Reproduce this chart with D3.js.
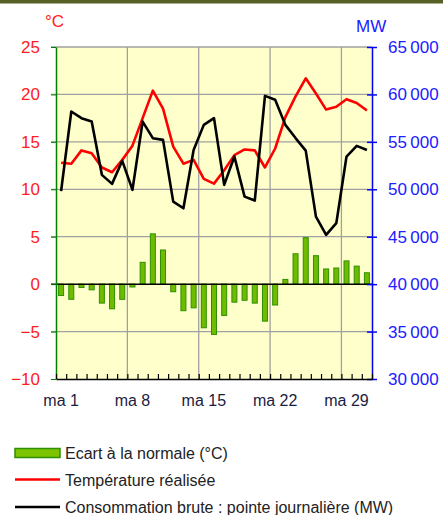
<!DOCTYPE html>
<html>
<head>
<meta charset="utf-8">
<script src="https://cdn.jsdelivr.net/npm/d3@7"></script>
<style>
  body { margin: 0; background: #fff; }
  svg { display: block; font-family: Arial, "Liberation Sans", sans-serif; }
</style>
</head>
<body>
<script>
// days of the month (31)
const days = d3.range(1, 32)
// tuesdays carry a label
const labelDays = [1, 8, 15, 22, 29]
const dayLabels = ['ma 1', 'ma 8', 'ma 15', 'ma 22', 'ma 29']

// temperature realised (°C)
const temperature = [12.8, 12.7, 14.1, 13.8, 12.3, 11.8, 13.1, 14.6, 17.5, 20.4,
  18.5, 14.5, 12.7, 13.1, 11.1, 10.6, 12.0, 13.6, 14.2, 14.1,
  12.3, 14.3, 17.6, 19.8, 21.7, 20.1, 18.4, 18.7, 19.5, 19.1, 18.3]

// gap to normal (°C)
const ecart = [-1.2, -1.6, -0.35, -0.6, -2.0, -2.6, -1.6, -0.3, 2.3, 5.3,
  3.6, -0.8, -2.8, -2.5, -4.6, -5.3, -3.3, -1.9, -1.7, -2.0,
  -3.9, -2.2, 0.5, 3.2, 4.9, 3.0, 1.6, 1.7, 2.45, 1.9, 1.2]

// daily peak consumption (MW)
const consommation = [49800, 58200, 57500, 57140, 51520, 50570, 53000, 49940, 57140, 55390,
  55210, 48700, 48000, 54150, 56790, 57500, 50460, 53450, 49230, 48810,
  59850, 59430, 56790, 55400, 54080, 47120, 45190, 46430, 53450, 54580, 54150]

const tempTicks = [-10, -5, 0, 5, 10, 15, 20, 25]
const mwTicks = [30000, 35000, 40000, 45000, 50000, 55000, 60000, 65000]

const legendLabels = ['Ecart à la normale (°C)', 'Température réalisée', 'Consommation brute : pointe journalière (MW)']

const W = 443, H = 515
const plot = { left: 56, right: 372, top: 47, bottom: 379 }

const svg = d3.select('body').append('svg')
    .attr('width', W)
    .attr('height', H)

// dark band at the very top
svg.append('rect')
    .attr('x', 0).attr('y', 0)
    .attr('width', W).attr('height', 3.5)
    .attr('fill', '#566127')

// scales
const x = d3.scaleBand()
    .domain(days)
    .range([plot.left, plot.right])

const yT = d3.scaleLinear()
    .domain([-10, 25])
    .range([plot.bottom, plot.top])

const yMW = d3.scaleLinear()
    .domain([30000, 65000])
    .range([plot.bottom, plot.top])

// plot background
svg.append('rect')
    .attr('x', plot.left).attr('y', plot.top)
    .attr('width', plot.right - plot.left)
    .attr('height', plot.bottom - plot.top)
    .attr('fill', '#ffffcc')

// horizontal grid
svg.append('g')
    .selectAll('line')
    .data(tempTicks.filter(d => d != 0 && d != -10))
    .enter()
    .append('line')
    .attr('x1', plot.left - 5)
    .attr('x2', plot.right)
    .attr('y1', d => yT(d))
    .attr('y2', d => yT(d))
    .attr('stroke', '#a0a0a0')
    .attr('stroke-width', 1.3)

// vertical grid, one per week
svg.append('g')
    .selectAll('line')
    .data(labelDays.slice(1))
    .enter()
    .append('line')
    .attr('x1', d => x(d))
    .attr('x2', d => x(d))
    .attr('y1', plot.top)
    .attr('y2', plot.bottom)
    .attr('stroke', '#a0a0a0')
    .attr('stroke-width', 1.3)

// bars for the gap to normal
const barW = 5
svg.append('g')
    .selectAll('rect')
    .data(ecart)
    .enter()
    .append('rect')
    .attr('x', (d, i) => x(days[i]) + x.bandwidth() / 2 - barW / 2)
    .attr('y', d => yT(Math.max(0, d)))
    .attr('width', barW)
    .attr('height', d => Math.abs(yT(d) - yT(0)))
    .attr('fill', '#6ebb00')
    .attr('stroke', '#2f8f00')
    .attr('stroke-width', 1)

// zero line
svg.append('line')
    .attr('x1', plot.left - 5).attr('x2', plot.right)
    .attr('y1', yT(0)).attr('y2', yT(0))
    .attr('stroke', '#000')
    .attr('stroke-width', 1.5)

// lines
const cx = i => x(days[i]) + x.bandwidth() / 2

const tempLine = d3.line()
    .x((d, i) => cx(i))
    .y(d => yT(d))

const mwLine = d3.line()
    .x((d, i) => cx(i))
    .y(d => yMW(d))

svg.append('path')
    .datum(temperature)
    .attr('d', tempLine)
    .attr('fill', 'none')
    .attr('stroke', '#ff0000')
    .attr('stroke-width', 2.6)
    .attr('stroke-linejoin', 'round')

svg.append('path')
    .datum(consommation)
    .attr('d', mwLine)
    .attr('fill', 'none')
    .attr('stroke', '#000')
    .attr('stroke-width', 2.6)
    .attr('stroke-linejoin', 'round')

// left axis (°C)
const leftAxis = svg.append('g')
    .attr('transform', 'translate(' + plot.left + ',0)')
    .call(d3.axisLeft(yT).tickValues(tempTicks).tickSize(5).tickPadding(11).tickSizeOuter(0))
leftAxis.select('.domain').attr('stroke', '#008000').attr('stroke-width', 1.5)
leftAxis.selectAll('.tick line').attr('stroke', '#008000')
leftAxis.selectAll('.tick text')
    .attr('fill', '#ff2020')
    .style('font-size', '17px')

// right axis (MW)
const fr = d3.formatLocale({ decimal: ',', thousands: '\u2009', grouping: [3], currency: ['', ' €'] })
const rightAxis = svg.append('g')
    .attr('transform', 'translate(' + plot.right + ',0)')
    .call(d3.axisRight(yMW).tickValues(mwTicks).tickFormat(fr.format(',')).tickSize(5).tickPadding(11).tickSizeOuter(0))
rightAxis.select('.domain').attr('stroke', '#0000ff').attr('stroke-width', 1.5)
rightAxis.selectAll('.tick line').attr('stroke', '#0000ff').attr('x1', -5).attr('stroke-width', 1.5)
rightAxis.selectAll('.tick text')
    .attr('fill', '#2020ff')
    .style('font-size', '17px')

// bottom axis: small ticks at each day boundary
const xEdge = d3.scaleLinear().domain([0, days.length]).range([plot.left, plot.right])
const bottomTicks = svg.append('g')
    .attr('transform', 'translate(0,' + plot.bottom + ')')
    .call(d3.axisBottom(xEdge).ticks(days.length).tickSize(-5).tickFormat('').tickSizeOuter(0))
bottomTicks.select('.domain').attr('stroke', '#000').attr('stroke-width', 1.5)
bottomTicks.selectAll('.tick line').attr('stroke', '#000').attr('stroke-width', 1.2)

// day labels
const bottomLabels = svg.append('g')
    .attr('transform', 'translate(0,' + plot.bottom + ')')
    .call(d3.axisBottom(x).tickValues(labelDays).tickSize(0).tickPadding(16)
        .tickFormat(d => dayLabels[labelDays.indexOf(d)]))
bottomLabels.select('.domain').remove()
bottomLabels.selectAll('.tick text')
    .attr('fill', '#1c1c40')
    .style('font-size', '16px')

// axis units
svg.append('text')
    .attr('x', 45).attr('y', 27)
    .attr('fill', '#ff2020')
    .style('font-size', '17px')
    .text('°C')

svg.append('text')
    .attr('x', 356).attr('y', 32)
    .attr('fill', '#2020ff')
    .style('font-size', '17px')
    .text('MW')

// legend
const legend = svg.append('g')
    .attr('transform', 'translate(15,453)')

legend.append('rect')
    .attr('x', 0).attr('y', -4.5)
    .attr('width', 45).attr('height', 9)
    .attr('fill', '#7cc400')
    .attr('stroke', '#2f8f00')
    .attr('stroke-width', 1.5)

legend.append('line')
    .attr('x1', 0).attr('x2', 45)
    .attr('y1', 26.5).attr('y2', 26.5)
    .attr('stroke', '#ff0000')
    .attr('stroke-width', 2.5)

legend.append('line')
    .attr('x1', 0).attr('x2', 45)
    .attr('y1', 54).attr('y2', 54)
    .attr('stroke', '#000')
    .attr('stroke-width', 2.5)

legend.selectAll('.label')
    .data(legendLabels)
    .enter()
    .append('text')
    .attr('class', 'label')
    .attr('x', 50)
    .attr('y', (d, i) => i * 27 + 6)
    .attr('fill', '#222')
    .style('font-size', '16px')
    .text(d => d)
</script>
</body>
</html>
